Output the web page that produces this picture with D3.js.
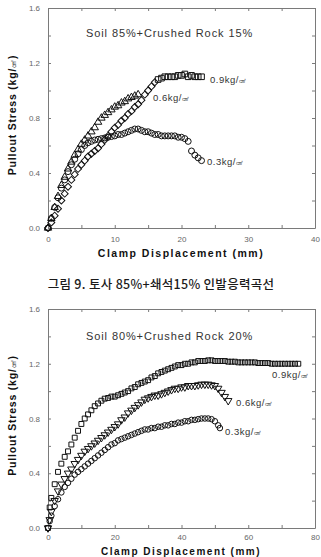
<!DOCTYPE html>
<html>
<head>
<meta charset="utf-8">
<script src="https://cdn.jsdelivr.net/npm/d3@7/dist/d3.min.js"></script>
<style>
body { margin: 0; background: #fff; }
svg { display: block; font-family: "Liberation Sans", Arial, sans-serif; }
</style>
</head>
<body>
<svg width="321" height="557"></svg>
<script>
// chart 1 : Soil 85% + Crushed Rock 15%  (displacement mm, stress kg/cm2)
var top03 = [[0,0],[0.5,0.07],[1,0.15],[1.5,0.22],[2,0.29],[2.5,0.35],[3,0.41],[3.5,0.46],[4,0.5],[4.5,0.54],[5,0.57],[5.5,0.6],[6,0.62],[6.5,0.63],[7,0.64],[7.5,0.645],[8,0.65],[8.5,0.655],[9,0.66],[9.5,0.665],[10,0.67],[10.5,0.68],[11,0.68],[11.5,0.69],[12,0.7],[12.5,0.71],[13,0.72],[13.5,0.72],[14,0.71],[14.5,0.7],[15,0.7],[15.5,0.69],[16,0.68],[16.5,0.68],[17,0.67],[17.5,0.67],[18,0.67],[18.5,0.67],[19,0.67],[19.5,0.66],[20,0.66],[20.5,0.65],[21,0.63],[21.5,0.56],[22,0.53],[22.5,0.51],[23,0.49]];
var top06 = [[0,0],[0.5,0.07],[1,0.15],[1.5,0.23],[2,0.31],[2.5,0.37],[3,0.43],[3.5,0.48],[4,0.53],[4.5,0.57],[5,0.61],[5.5,0.64],[6,0.67],[6.5,0.7],[7,0.73],[7.5,0.77],[8,0.8],[8.5,0.82],[9,0.84],[9.5,0.86],[10,0.88],[10.5,0.89],[11,0.91],[11.5,0.92],[12,0.94],[12.5,0.95],[13,0.96],[13.5,0.97]];
var top09rise = [[0,0],[0.5,0.04],[1,0.09],[1.5,0.14],[2,0.2],[2.5,0.25],[3,0.3],[3.5,0.35],[4,0.39],[4.5,0.43],[5,0.46],[5.5,0.49],[6,0.52],[6.5,0.54],[7,0.56],[7.5,0.58],[8,0.61],[8.5,0.64],[9,0.67],[9.5,0.7],[10,0.73],[10.5,0.75],[11,0.78],[11.5,0.8],[12,0.83],[12.5,0.85],[13,0.88],[13.5,0.9],[14,0.93],[14.5,0.97],[15,1.0],[15.5,1.03],[16,1.06]];
var top09flat = [[16.5,1.08],[17,1.09],[17.5,1.1],[18,1.1],[18.5,1.1],[19,1.1],[19.5,1.11],[20,1.11],[20.5,1.12],[21,1.1],[21.5,1.11],[22,1.1],[22.5,1.1],[23,1.1]];

// chart 2 : Soil 80% + Crushed Rock 20%
var bot03 = [[0,0],[0.5,0.05],[1,0.09],[2,0.16],[3,0.21],[4,0.26],[5,0.3],[6,0.33],[7,0.36],[8,0.39],[9,0.41],[10,0.43],[11,0.45],[12,0.47],[13,0.49],[14,0.51],[15,0.53],[16,0.55],[17,0.57],[18,0.59],[19,0.61],[20,0.62],[21,0.64],[22,0.65],[23,0.66],[24,0.67],[25,0.68],[26,0.69],[27,0.7],[28,0.71],[29,0.72],[30,0.72],[31,0.73],[32,0.73],[33,0.74],[34,0.74],[35,0.75],[36,0.75],[37,0.76],[38,0.76],[39,0.77],[40,0.77],[41,0.78],[42,0.78],[43,0.79],[44,0.79],[45,0.795],[46,0.8],[47,0.8],[48,0.8],[49,0.795],[50,0.78],[51,0.75],[51.5,0.73]];
var bot06 = [[0,0],[0.5,0.06],[1,0.12],[2,0.2],[3,0.27],[4,0.32],[5,0.36],[6,0.4],[7,0.43],[8,0.47],[9,0.5],[10,0.53],[11,0.56],[12,0.58],[13,0.6],[14,0.62],[15,0.64],[16,0.66],[17,0.68],[18,0.7],[19,0.72],[20,0.74],[21,0.76],[22,0.79],[23,0.81],[24,0.84],[25,0.86],[26,0.88],[27,0.9],[28,0.92],[29,0.94],[30,0.95],[31,0.96],[32,0.97],[33,0.97],[34,0.98],[35,0.99],[36,1.0],[37,1.01],[38,1.02],[39,1.02],[40,1.03],[41,1.03],[42,1.04],[43,1.04],[44,1.04],[45,1.045],[46,1.05],[47,1.05],[48,1.05],[49,1.045],[50,1.04],[51,1.02],[52,0.99],[53,0.96],[54,0.93]];
var bot09 = [[0,0],[0.5,0.15],[1,0.22],[2,0.32],[3,0.41],[4,0.47],[5,0.52],[6,0.56],[7,0.61],[8,0.66],[9,0.71],[10,0.76],[11,0.8],[12,0.83],[13,0.86],[14,0.89],[15,0.91],[16,0.93],[17,0.945],[18,0.95],[19,0.96],[20,0.96],[21,0.97],[22,0.98],[23,0.99],[24,1.0],[25,1.02],[26,1.03],[27,1.05],[28,1.06],[29,1.07],[30,1.08],[31,1.1],[32,1.11],[33,1.13],[34,1.14],[35,1.15],[36,1.16],[37,1.17],[38,1.18],[39,1.19],[40,1.19],[41,1.2],[42,1.2],[43,1.21],[44,1.21],[45,1.22],[46,1.22],[47,1.22],[48,1.225],[49,1.225],[50,1.22],[51,1.22],[52,1.22],[53,1.22],[54,1.215],[55,1.215],[56,1.215],[57,1.21],[58,1.21],[59,1.21],[60,1.21],[61,1.21],[62,1.21],[63,1.205],[64,1.205],[65,1.205],[66,1.205],[67,1.2],[68,1.2],[69,1.2],[70,1.2],[71,1.2],[72,1.2],[73,1.2],[74,1.2],[75,1.2]];

var yTicks = [0, 0.2, 0.4, 0.6, 0.8, 1.0, 1.2, 1.4, 1.6];
var topXTicks = [0, 5, 10, 15, 20, 25, 30, 35, 40];
var botXTicks = [0, 10, 20, 30, 40, 50, 60, 70, 80];

var svg = d3.select("svg");

function drawPanel(top, bottom, xMax, xTicks, labelEvery, xPad) {
	var x = d3.scaleLinear().domain([0, xMax]).range([48, 315]);
	var y = d3.scaleLinear().domain([0, 1.6]).range([bottom, top]);
	var g = svg.append("g");

	var fmtY = function(d) { return Math.round(d * 10) % 4 == 0 ? d.toFixed(1) : ""; };
	var fmtX = function(d) { return d % labelEvery == 0 ? d : ""; };

	g.append("g").attr("transform", "translate(0," + bottom + ")")
		.call(d3.axisBottom(x).tickValues(xTicks).tickFormat(fmtX).tickSizeInner(-3).tickSizeOuter(0).tickPadding(xPad));
	g.append("g").attr("transform", "translate(0," + top + ")")
		.call(d3.axisTop(x).tickValues(xTicks).tickFormat("").tickSizeInner(-3).tickSizeOuter(0));
	g.append("g").attr("transform", "translate(48,0)")
		.call(d3.axisLeft(y).tickValues(yTicks).tickFormat(fmtY).tickSizeInner(-3).tickSizeOuter(0).tickPadding(8));
	g.append("g").attr("transform", "translate(315,0)")
		.call(d3.axisRight(y).tickValues(yTicks).tickFormat("").tickSizeInner(-3).tickSizeOuter(0));

	g.selectAll(".domain, .tick line").attr("stroke", "#7a7a7a");
	g.selectAll(".tick text").attr("fill", "#666").style("font-size", "8px")
		.style("font-family", "'Liberation Sans', Arial, sans-serif");

	return { g: g, x: x, y: y };
}

function markers(p, data, type, size, rot) {
	p.g.append("g").selectAll("path")
		.data(data)
		.enter().append("path")
		.attr("d", d3.symbol().type(type).size(size))
		.attr("transform", function(d) {
			return "translate(" + p.x(d[0]) + "," + p.y(d[1]) + ") rotate(" + rot + ")";
		})
		.attr("fill", "none")
		.attr("stroke", "#111")
		.attr("stroke-width", 1);
}

function seriesLabel(p, tx, ty, value) {
	var t = p.g.append("text").attr("x", tx).attr("y", ty)
		.attr("fill", "#333").style("font-size", "9.5px").style("letter-spacing", "0.5px")
		.text(value + "kg/");
	t.append("tspan").style("font-size", "7px").text("㎠");
}

function titles(p, top, bottom, title, titleY, xLabelY, xLabelSize) {
	p.g.append("text").attr("x", 86).attr("y", titleY)
		.attr("fill", "#333").style("font-size", "11px").style("letter-spacing", "0.9px")
		.text(title);

	p.g.append("text").attr("x", 181).attr("y", xLabelY).attr("text-anchor", "middle")
		.attr("fill", "#111").style("font-size", xLabelSize + "px").style("font-weight", "bold").style("letter-spacing", "1.5px")
		.text("Clamp Displacement (mm)");

	var yl = p.g.append("text")
		.attr("transform", "translate(16," + ((top + bottom) / 2 - 3) + ") rotate(-90)")
		.attr("text-anchor", "middle")
		.attr("fill", "#111").style("font-size", "10.5px").style("font-weight", "bold").style("letter-spacing", "0.8px")
		.text("Pullout  Stress (kg/");
	yl.append("tspan").style("font-weight", "normal").style("font-size", "8px").text("㎠");
	yl.append("tspan").text(")");
}

// top chart
var p1 = drawPanel(8, 228, 40, topXTicks, 10, 8);
markers(p1, top03, d3.symbolCircle, 28, 0);
markers(p1, top09rise, d3.symbolSquare, 24, 45);
markers(p1, top09flat, d3.symbolSquare, 32, 0);
markers(p1, top06, d3.symbolTriangle, 24, 0);
seriesLabel(p1, 210, 83, "0.9");
seriesLabel(p1, 153, 101, "0.6");
seriesLabel(p1, 207, 165, "0.3");
titles(p1, 8, 228, "Soil 85%+Crushed Rock 15%", 37, 256.5, 10.5);

svg.append("text").attr("x", 161).attr("y", 289).attr("text-anchor", "middle")
	.attr("fill", "#1a1a1a").style("font-size", "12.5px").style("font-weight", "500")
	.style("letter-spacing", "0.3px").style("font-family", "'Noto Sans CJK KR', sans-serif")
	.text("그림 9. 토사 85%+쇄석15% 인발응력곡선");

// bottom chart
var p2 = drawPanel(309, 528, 80, botXTicks, 20, 6);
markers(p2, bot03, d3.symbolCircle, 24, 0);
markers(p2, bot06, d3.symbolTriangle, 24, 180);
markers(p2, bot09, d3.symbolSquare, 24, 0);
seriesLabel(p2, 272, 378, "0.9");
seriesLabel(p2, 236, 406, "0.6");
seriesLabel(p2, 225, 435, "0.3");
titles(p2, 309, 528, "Soil 80%+Crushed Rock 20%", 339.5, 554.5, 10);
</script>
</body>
</html>
